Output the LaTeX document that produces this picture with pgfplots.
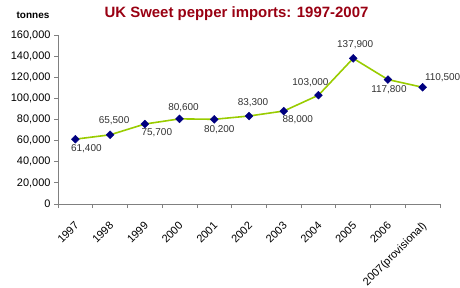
\documentclass[border=0pt]{standalone}
\usepackage{pgfplots}
\usepackage{pgfplotstable}
\pgfplotsset{compat=1.18}
\usepackage{fontspec}
\setmainfont{Liberation Sans}
\definecolor{titlered}{RGB}{153,0,18}
\definecolor{linegreen}{RGB}{153,204,0}
\definecolor{marknavy}{RGB}{0,0,128}
\definecolor{axgray}{RGB}{128,128,128}
\definecolor{labgray}{RGB}{50,50,50}
\pgfplotstableread{
x y xs ys
0 61400 11 -10
1 65500 4 14
2 75700 12 -9
3 80600 4 11
4 80200 5 -10
5 83300 4 13
6 88000 14 -9
7 103000 -8 13
8 137900 2 14
9 117800 1 -10
10 110500 20 10
}\data
\begin{document}
\begin{tikzpicture}[x=1bp,y=1bp]
\path[use as bounding box] (0,0) rectangle (460,287);
\begin{axis}[
  at={(58bp,83bp)}, anchor=south west,
  scale only axis, width=382bp, height=169bp,
  xmin=-0.5, xmax=10.5, ymin=0, ymax=160000,
  axis x line=bottom, axis y line=left,
  axis line style={-, draw=axgray, line width=0.8pt},
  tick align=outside,
  xtick={0,...,10},
  xticklabels={1997,1998,1999,2000,2001,2002,2003,2004,2005,2006,2007(provisional)},
  major x tick style={draw=none},
  minor xtick={-0.5,0.5,...,10.5},
  minor x tick style={draw=axgray, line width=0.8pt},
  minor tick length=4bp,
  ytick={0,20000,...,160000},
  y tick style={draw=axgray, line width=0.8pt},
  major tick length=4bp,
  scaled y ticks=false,
  /pgf/number format/.cd, fixed, 1000 sep={,}, precision=0, assume math mode=true,
  /pgfplots/.cd,
  yticklabel style={font=\fontsize{11}{13}\selectfont, text=black},
  xticklabel style={font=\fontsize{11}{13}\selectfont, rotate=45, anchor=north east, xshift=-9bp, yshift=-7bp, inner sep=1pt},
  clip=false,
]
\addplot[color=linegreen, line width=1.6pt, mark=square*, mark size=2.8bp,
  mark options={fill=marknavy, draw=marknavy, line width=0.4pt, rotate=45},
  point meta=y,
  nodes near coords,
  visualization depends on={\thisrow{xs} \as \xs},
  visualization depends on={\thisrow{ys} \as \ys},
  every node near coord/.append style={anchor=center, xshift=\xs bp, yshift=\ys bp,
     font=\fontsize{10}{12}\selectfont, text=labgray, inner sep=0pt, rotate=0},
] table[x=x, y=y] {\data};
\end{axis}
\node[font=\fontsize{15}{18}\selectfont\bfseries, text=titlered] at (236.5,273) {UK Sweet pepper imports: 1997-2007};
\node[font=\fontsize{10}{12}\selectfont\bfseries] at (33,272) {tonnes};
\end{tikzpicture}
\end{document}
